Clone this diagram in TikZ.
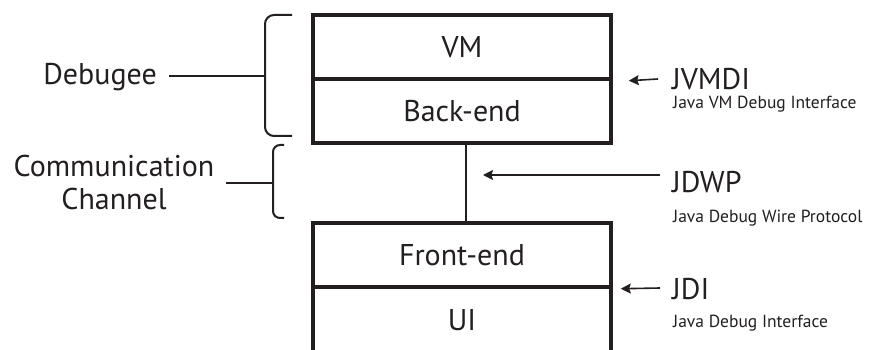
\documentclass[tikz,border=0pt]{standalone}
\usepackage{fontspec}
\setmainfont{PT Sans}
\usetikzlibrary{calc,arrows.meta}
\definecolor{ink}{RGB}{35,31,32}
\tikzset{
  layer/.style={draw=ink, line width=3.5pt, minimum width=298pt, minimum height=64pt, inner sep=0pt, font=\fontsize{30}{33}\selectfont, text=ink},
  lbl/.style={font=\fontsize{30}{33}\selectfont, text=ink, inner sep=0pt},
  api/.style={font=\fontsize{30}{33}\selectfont, text=ink, inner sep=0pt, anchor=west},
  sub/.style={font=\fontsize{17.5}{20}\selectfont, text=ink, inner sep=0pt, anchor=west},
  arr/.style={draw=ink, line width=1.6pt, -{Stealth[length=10pt,width=10pt,inset=1.5pt]}},
  thin/.style={draw=ink, line width=1.6pt},
  brace/.style={draw=ink, line width=2pt, rounded corners=9pt}
}
\begin{document}
\begin{tikzpicture}[x=1pt,y=1pt]
\clip (0,0) rectangle (869,350);
\fill[white] (0,0) rectangle (869,350);
% boxes (y = 350 - image y)
\node[layer] (vm) at (462,303) {VM};
\node[layer] (be) at (462,239) {Back-end};
\node[layer] (fe) at (462,95) {Front-end};
\node[layer, minimum height=80pt] (ui) at (462,23) {};
\node[lbl] (uit) at (462,30) {UI};
% channel line
\draw[thin] ($(be.south)+(4,0)$) -- ($(fe.north)+(4,0)$);
% braces
\coordinate (b1t) at (292,335);
\coordinate (b1b) at (292,214);
\coordinate (b1m) at (265,274);
\draw[brace] (b1t) -- (265,335) -- (265,214) -- (b1b);
\node[lbl, anchor=east] (deb) at (157,273) {Debugee};
\draw[thin] ($(deb.east)+(12,1)$) -- (b1m);
\coordinate (b2t) at (284,205);
\coordinate (b2b) at (284,132);
\coordinate (b2m) at (273,167);
\draw[brace, rounded corners=7pt] (b2t) -- (273,205) -- (273,132) -- (b2b);
\node[lbl, align=center] (cc) at (114,167) {Communication\\Channel};
\draw[thin] (226,167) -- (b2m);
% APIs
\node[api] (jvmdi) at (672,271) {JVMDI};
\node[sub] (jvmdis) at (673,246) {Java VM Debug Interface};
\draw[arr] ($(jvmdi.west)+(-14,0)$) -- ($(vm.south east)+(16,0)$);
\node[api] (jdwp) at (672,168) {JDWP};
\node[sub] (jdwps) at (673,132) {Java Debug Wire Protocol};
\draw[arr] (660,175) -- (483,175);
\node[api] (jdi) at (672,61) {JDI};
\node[sub] (jdis) at (673,27) {Java Debug Interface};
\draw[arr] ($(jdi.west)+(-12,1)$) -- ($(fe.south east)+(8,0)$);
\end{tikzpicture}
\end{document}
